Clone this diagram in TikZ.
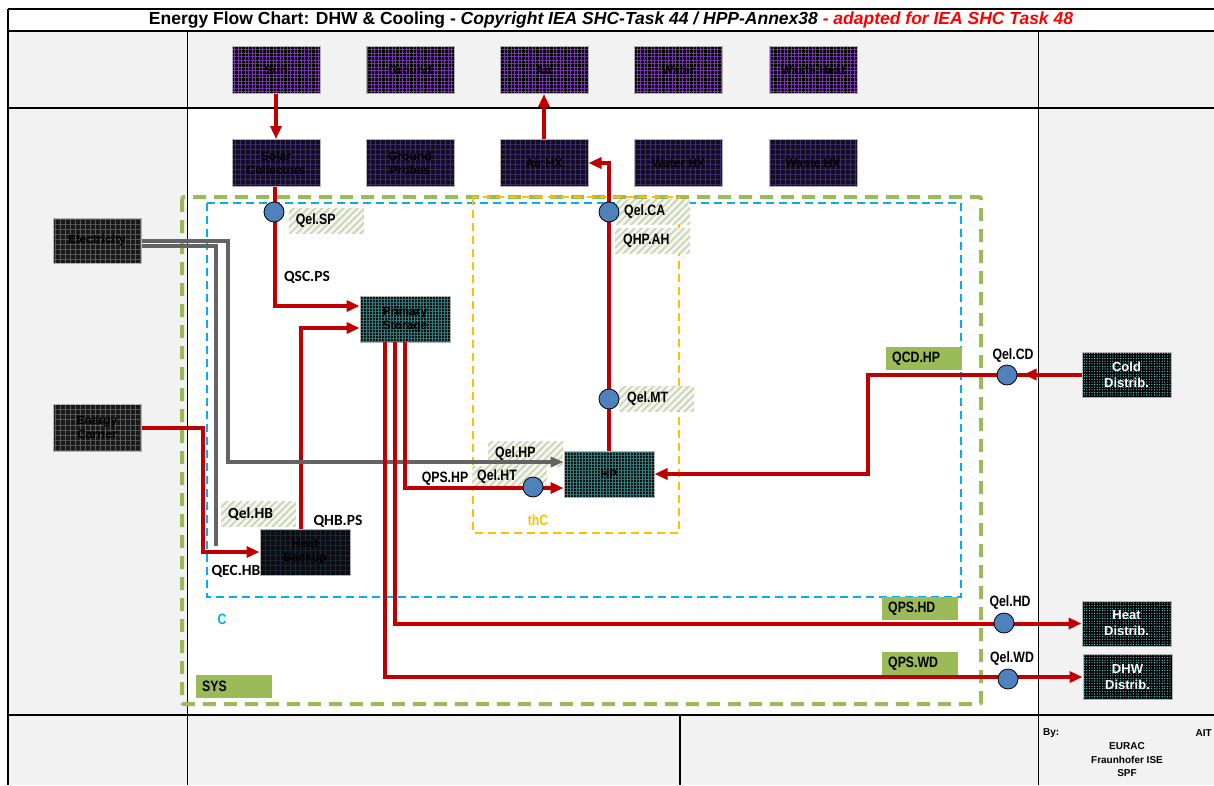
\documentclass[tikz,border=0pt]{standalone}
\usepackage{fontspec}
\setmainfont{Liberation Sans}
\newfontfamily\narrowfont[FakeStretch=0.82]{Liberation Sans}
\newfontfamily\calfont{Carlito}
\usetikzlibrary{arrows.meta,patterns.meta,decorations.markings}
\definecolor{redl}{HTML}{C00000}
\definecolor{grayl}{HTML}{646464}
\definecolor{bgray}{HTML}{F2F2F2}
\definecolor{sysg}{HTML}{9BBB59}
\definecolor{cblue}{HTML}{00B0F0}
\definecolor{thcor}{HTML}{FFC000}
\definecolor{circc}{HTML}{4F81BD}
\definecolor{hatchc}{HTML}{CDD3B8}
\definecolor{hatchbg}{HTML}{F5F7EF}
\definecolor{purp}{HTML}{7434A8}
\definecolor{navyf}{HTML}{120C24}
\definecolor{navyh}{HTML}{3A2C66}
\definecolor{tealh}{HTML}{2A8080}
\definecolor{cyand}{HTML}{5ADADA}
\definecolor{backh}{HTML}{16283A}
\definecolor{titlered}{HTML}{FF0000}
\newcommand\lblfont{\narrowfont\bfseries\fontsize{15}{17}\selectfont}
\newcommand\callbl{\calfont\bfseries\fontsize{15.5}{17}\selectfont}
\newcommand\boxfont{\bfseries\fontsize{12}{14}\selectfont}
\begin{document}
\begin{tikzpicture}[x=1pt,y=-1pt,
  redline/.style={draw=redl,line width=4pt},
  grayline/.style={draw=grayl,line width=4pt},
  rtip/.style={-{Triangle[length=13pt,width=11pt]}},
  gtip/.style={-{Triangle[length=13pt,width=10pt]}},
  srcbox/.style={draw=gray!60,line width=1pt,preaction={fill=black},
    pattern={Hatch[angle=0,distance=3.5pt,line width=1pt]},pattern color=purp,
    minimum width=88pt,minimum height=47pt,inner sep=0pt,align=center,text=black,font=\boxfont},
  hxbox/.style={srcbox,preaction={fill=navyf},pattern={Hatch[angle=0,distance=5pt,line width=1pt]},pattern color=navyh},
  carbox/.style={srcbox,preaction={fill=black!90},pattern={Hatch[angle=0,distance=5pt,line width=1pt]},pattern color=black!65},
  stbox/.style={srcbox,preaction={fill=black!95},pattern={Hatch[angle=0,distance=3pt,line width=0.8pt]},pattern color=tealh,minimum width=90pt,minimum height=46pt},
  bubox/.style={srcbox,preaction={fill=black!95},pattern={Hatch[angle=0,distance=5pt,line width=1pt]},pattern color=backh,minimum width=90pt,minimum height=46pt},
  disbox/.style={srcbox,preaction={fill=black},pattern={Dots[distance=2.6pt,radius=0.65pt]},pattern color=cyand,minimum width=89pt,minimum height=45pt,text=white,font=\bfseries\fontsize{13}{16}\selectfont},
  qcirc/.style={circle,draw=black,line width=0.8pt,fill=circc,minimum size=20pt,inner sep=0pt},
  hlab/.style={preaction={fill=hatchbg},pattern={Lines[angle=45,distance=5pt,line width=1.8pt]},pattern color=hatchc,
    minimum height=25pt,inner ysep=0pt,inner xsep=#1,text width=75pt-2*#1,align=left,anchor=west,font=\lblfont},
  glab/.style={fill=sysg,minimum height=23pt,inner ysep=0pt,inner xsep=6pt,text width=64pt,align=left,anchor=west,font=\lblfont},
  plab/.style={inner sep=0pt,font=\lblfont},
  clab/.style={inner sep=0pt,font=\callbl},
  foot/.style={inner sep=0pt,font=\bfseries\fontsize{10}{12}\selectfont}
]
\useasboundingbox (0,0) rectangle (1214,785);
% backgrounds
\fill[white] (0,0) rectangle (1214,785);
\fill[bgray] (8,31) rectangle (1214,785);
\fill[white] (187,108) rectangle (1038,715);
% frame lines
\draw[line width=1.2pt] (8,9) -- (1214,9);
\draw[line width=1.2pt] (8,31) -- (1214,31);
\draw[line width=1.2pt] (8,108) -- (1214,108);
\draw[line width=2pt] (8,715) -- (1214,715);
\draw[line width=1.2pt] (8,9) -- (8,785);
\draw[line width=1pt] (187,31) -- (187,785);
\draw[line width=1pt] (1038,31) -- (1038,785);
\draw[line width=2pt] (680,715) -- (680,785);
% title
\node[inner sep=0pt,font=\bfseries\fontsize{17.5}{20}\selectfont] (title) at (611,20)
  {Energy Flow Chart: DHW \& Cooling - \textit{Copyright IEA SHC-Task 44 / HPP-Annex38} \textcolor{titlered}{\textit{- adapted for IEA SHC Task 48}}};
% system boundaries
\draw[draw=sysg,line width=4pt,dash pattern=on 13pt off 8pt,rounded corners=2pt] (182,197) rectangle (981,704);
\draw[draw=cblue,line width=2.5pt,dash pattern=on 8pt off 5pt] (207,203) rectangle (961,597);
\draw[draw=thcor,line width=2pt,dash pattern=on 8pt off 5pt] (473,197) rectangle (679,533);
% hatched and green labels
\node[hlab=7pt] (lqelsp) at (288,220.5) {Qel.SP};
\node[hlab=9pt] (lqelca) at (615,211.5) {Qel.CA};
\node[hlab=8pt] (lqhpah) at (615,240.5) {QHP.AH};
\node[hlab=8pt] (lqelmt) at (619,398.5) {Qel.MT};
\node[hlab=7pt] (lqelhp) at (488,454) {Qel.HP};
\node[hlab=5pt,minimum height=21pt] (lqelht) at (472,477) {Qel.HT};
\node[hlab=7pt,font=\callbl] (lqelhb) at (221,514) {Qel.HB};
\node[glab] (lqcdhp) at (886,358.5) {QCD.HP};
\node[glab] (lqpshd) at (882,608.5) {QPS.HD};
\node[glab] (lqpswd) at (882,663.5) {QPS.WD};
\node[glab] (lsys) at (196,686.5) {SYS};
% nodes
\node[srcbox] (sun) at (276,70) {Sun};
\node[srcbox] (ground) at (410,70) {Ground};
\node[srcbox] (air) at (544,70) {Air};
\node[srcbox] (water) at (678.5,70) {Water};
\node[srcbox] (waste) at (813,70) {Waste Heat};
\node[hxbox] (solarc) at (276,163) {Solar\\Collectors};
\node[hxbox] (groundp) at (410,163) {Ground\\Probes};
\node[hxbox] (airhx) at (544,163) {Air HX};
\node[hxbox] (waterhx) at (678.5,163) {Water HX};
\node[hxbox] (wastehx) at (813,163) {Waste HX};
\node[carbox,minimum height=45pt] (elec) at (97,240.5) {Electricity};
\node[carbox] (ec) at (97,427.5) {Energy\\Carrier};
\node[stbox] (ps) at (405,319) {Primary\\Storage};
\node[bubox] (hb) at (305,552) {Heat\\Backup};
\node[stbox] (hp) at (609,474) {HP};
\node[disbox] (cold) at (1126.5,374.5) {Cold\\Distrib.};
\node[disbox] (heatd) at (1126.5,623.5) {Heat\\Distrib.};
\node[disbox] (dhw) at (1127.5,677) {DHW\\Distrib.};
\coordinate (hbjoin) at (216,546);
% connectors
\draw[redline,rtip] (sun.south) -- (solarc.north);
\draw[redline,rtip] (airhx.north) -- (air.south);
\draw[redline,rtip] ([xshift=-1pt]solarc.south) |- ([yshift=13pt]ps.west);
\draw[redline,rtip] ([xshift=-4pt]hb.north) |- ([yshift=-9pt]ps.west);
\draw[redline,rtip] (ec.east) -- ++(61,0) |- (hb.west);
\draw[grayline] ([yshift=-5pt]elec.east) -| (hbjoin);
\draw[grayline,gtip] ([yshift=-0.5pt]elec.east) -- ++(86,0) |- ([yshift=12pt]hp.west);
\draw[redline,rtip] ([xshift=-20pt]ps.south) |- (dhw.west);
\draw[redline,rtip] ([xshift=-10pt]ps.south) |- (heatd.west);
\draw[redline,rtip] (ps.south) |- ([yshift=-14pt]hp.west);
\draw[redline,rtip] (hp.north) |- (airhx.east);
\draw[redline,rtip,postaction={decorate},decoration={markings,mark=at position 0.11 with {\arrow{Triangle[length=13pt,width=11pt]}}}]
  (cold.west) -- ++(-214,0) |- (hp.east);
% measuring points
\node[qcirc] (qelsp) at (274,212) {};
\node[qcirc] (qelca) at (609,212) {};
\node[qcirc] (qelmt) at (609,399) {};
\node[qcirc] (qelht) at (533,487) {};
\node[qcirc] (qelcd) at (1007,375) {};
\node[qcirc] (qelhd) at (1004,623) {};
\node[qcirc] (qelwd) at (1008,679) {};
% plain labels
\node[clab] (lqscps) at (307,277) {QSC.PS};
\node[clab] (lqhbps) at (338,521) {QHB.PS};
\node[clab] (lqechb) at (236,571) {QEC.HB};
\node[plab] (lqpshp) at (445,479) {QPS.HP};
\node[plab] (lqelcd) at (1013,356) {Qel.CD};
\node[plab] (lqelhd) at (1010,603) {Qel.HD};
\node[plab] (lqelwd) at (1012,659) {Qel.WD};
\node[plab,text=thcor] (lthc) at (538,520) {thC};
\node[plab,text=cblue] (lc) at (222,619) {C};
% footer
\node[foot,anchor=west] (by) at (1043,733) {By:};
\node[foot,anchor=east] (ait) at (1212,733) {AIT};
\node[foot] (eurac) at (1127,746) {EURAC};
\node[foot] (fise) at (1127,760) {Fraunhofer ISE};
\node[foot] (spf) at (1127,773) {SPF};
\end{tikzpicture}
\end{document}
